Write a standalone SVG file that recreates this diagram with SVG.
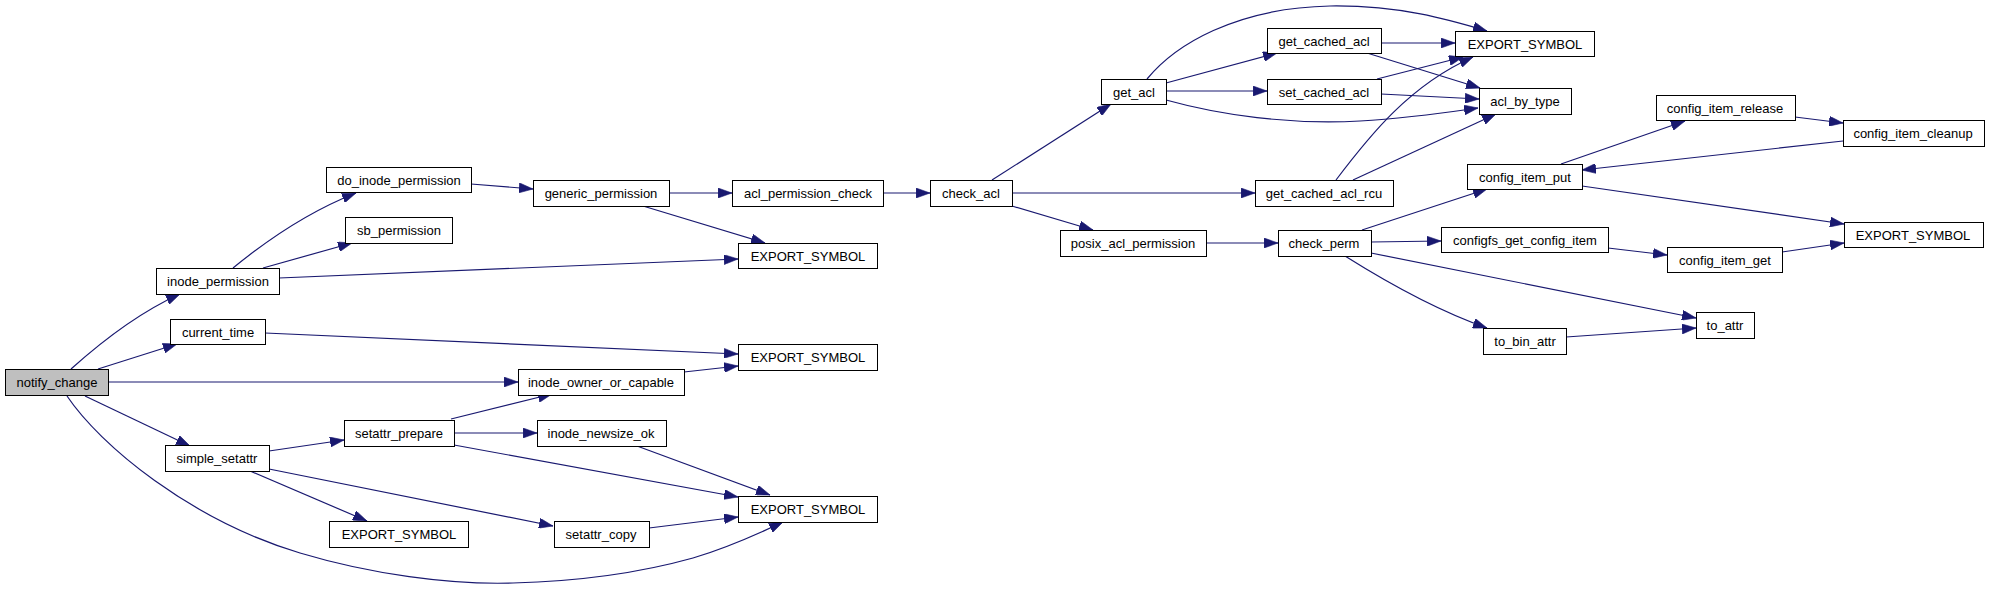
<svg xmlns="http://www.w3.org/2000/svg" width="1989" height="589" viewBox="0 0 1989 589">
<style>
.n rect{fill:#fff;stroke:#000;stroke-width:1}
.n text{font-family:"Liberation Sans",Arial,sans-serif;font-size:13px;fill:#000;text-anchor:middle}
#n_notify_change rect{fill:#bfbfbf}
.e path{fill:none;stroke:#191970;stroke-width:1.2;marker-end:url(#ah)}
</style>
<defs>
<marker id="ah" markerUnits="userSpaceOnUse" markerWidth="14" markerHeight="10" refX="12" refY="4.3" orient="auto" viewBox="0 0 12 8.6">
<path d="M0,0 L12,4.3 L0,8.6 z" fill="#191970" stroke="#191970" stroke-width="0.5"/>
</marker>
</defs>
<rect width="1989" height="589" fill="#fff"/>
<g class="e" id="edges">
<path d="M71,369 C100,343 140,312 180,294"/>
<path d="M98,369 L177,344"/>
<path d="M108,382 L518,382"/>
<path d="M85,396 L190,446"/>
<path d="M67,396 C100,445 190,520 300,553 C370,574 450,585 513,583 C590,581 650,570 693,558 C730,547 760,533 783,522"/>
<path d="M233,268 C255,250 300,215 356,193"/>
<path d="M263,268 L352,243"/>
<path d="M279,278 L738,259"/>
<path d="M471,184 L533,189"/>
<path d="M669,193 L732,193"/>
<path d="M643,206 L765,243"/>
<path d="M883,193 L930,193"/>
<path d="M992,180 L1111,104"/>
<path d="M1012,193 L1255,193"/>
<path d="M1012,206 L1093,230"/>
<path d="M1147,79 C1175,45 1235,8 1330,6 C1400,5 1450,20 1487,31"/>
<path d="M1166,83 L1277,53"/>
<path d="M1166,91 L1267,91"/>
<path d="M1166,100 C1220,115 1290,125 1360,121 C1410,118 1450,112 1478,108"/>
<path d="M1381,43 L1455,43"/>
<path d="M1367,53 L1480,88"/>
<path d="M1377,79 L1463,57"/>
<path d="M1381,94 L1479,99"/>
<path d="M1336,180 C1370,135 1410,85 1473,57"/>
<path d="M1353,180 L1496,114"/>
<path d="M1206,243 L1278,243"/>
<path d="M1362,230 L1487,189"/>
<path d="M1371,242 L1441,241"/>
<path d="M1345,256 C1380,278 1430,308 1487,328"/>
<path d="M1371,253 L1696,318"/>
<path d="M1561,164 L1685,121"/>
<path d="M1582,186 L1844,224"/>
<path d="M1795,117 L1843,123"/>
<path d="M1843,141 L1582,170"/>
<path d="M1608,248 L1667,255"/>
<path d="M1782,252 L1844,243"/>
<path d="M1566,337 L1696,328"/>
<path d="M265,333 L738,354"/>
<path d="M684,372 L738,366"/>
<path d="M269,451 L344,440"/>
<path d="M250,471 L367,521"/>
<path d="M269,469 L553,526"/>
<path d="M451,419 L552,394"/>
<path d="M454,433 L537,433"/>
<path d="M454,445 L738,497"/>
<path d="M637,446 L770,495"/>
<path d="M649,528 L738,517"/>
</g>
<g class="n" id="n_notify_change"><rect x="5.5" y="369.5" width="103" height="26"/><text x="57" y="387">notify_change</text></g>
<g class="n" id="n_inode_permission"><rect x="156.5" y="268.5" width="123" height="26"/><text x="218" y="286">inode_permission</text></g>
<g class="n" id="n_current_time"><rect x="170.5" y="319.5" width="95" height="25"/><text x="218" y="336.5">current_time</text></g>
<g class="n" id="n_simple_setattr"><rect x="165.5" y="445.5" width="104" height="26"/><text x="217" y="463">simple_setattr</text></g>
<g class="n" id="n_do_inode_permission"><rect x="326.5" y="167.5" width="145" height="25"/><text x="399" y="184.5">do_inode_permission</text></g>
<g class="n" id="n_sb_permission"><rect x="345.5" y="217.5" width="107" height="26"/><text x="399" y="235">sb_permission</text></g>
<g class="n" id="n_generic_permission"><rect x="533.5" y="180.5" width="136" height="26"/><text x="601" y="198">generic_permission</text></g>
<g class="n" id="n_acl_permission_check"><rect x="732.5" y="180.5" width="151" height="26"/><text x="808" y="198">acl_permission_check</text></g>
<g class="n" id="n_check_acl"><rect x="930.5" y="180.5" width="82" height="26"/><text x="971" y="198">check_acl</text></g>
<g class="n" id="n_export_symbol_1"><rect x="738.5" y="243.5" width="139" height="25"/><text x="808" y="260.5">EXPORT_SYMBOL</text></g>
<g class="n" id="n_export_symbol_2"><rect x="738.5" y="344.5" width="139" height="26"/><text x="808" y="362">EXPORT_SYMBOL</text></g>
<g class="n" id="n_inode_owner_or_capable"><rect x="518.5" y="369.5" width="166" height="26"/><text x="601" y="387">inode_owner_or_capable</text></g>
<g class="n" id="n_setattr_prepare"><rect x="344.5" y="420.5" width="110" height="26"/><text x="399" y="438">setattr_prepare</text></g>
<g class="n" id="n_inode_newsize_ok"><rect x="537.5" y="420.5" width="129" height="26"/><text x="601" y="438">inode_newsize_ok</text></g>
<g class="n" id="n_export_symbol_3"><rect x="738.5" y="496.5" width="139" height="26"/><text x="808" y="514">EXPORT_SYMBOL</text></g>
<g class="n" id="n_export_symbol_4"><rect x="329.5" y="521.5" width="139" height="26"/><text x="399" y="539">EXPORT_SYMBOL</text></g>
<g class="n" id="n_setattr_copy"><rect x="554.5" y="521.5" width="95" height="26"/><text x="601" y="539">setattr_copy</text></g>
<g class="n" id="n_get_acl"><rect x="1101.5" y="79.5" width="65" height="25"/><text x="1134" y="96.5">get_acl</text></g>
<g class="n" id="n_get_cached_acl"><rect x="1267.5" y="28.5" width="114" height="25"/><text x="1324" y="45.5">get_cached_acl</text></g>
<g class="n" id="n_set_cached_acl"><rect x="1267.5" y="79.5" width="114" height="25"/><text x="1324" y="96.5">set_cached_acl</text></g>
<g class="n" id="n_export_symbol_5"><rect x="1455.5" y="31.5" width="139" height="25"/><text x="1525" y="48.5">EXPORT_SYMBOL</text></g>
<g class="n" id="n_acl_by_type"><rect x="1479.5" y="88.5" width="92" height="26"/><text x="1525" y="106">acl_by_type</text></g>
<g class="n" id="n_get_cached_acl_rcu"><rect x="1255.5" y="180.5" width="138" height="26"/><text x="1324" y="198">get_cached_acl_rcu</text></g>
<g class="n" id="n_posix_acl_permission"><rect x="1060.5" y="230.5" width="146" height="26"/><text x="1133" y="248">posix_acl_permission</text></g>
<g class="n" id="n_check_perm"><rect x="1278.5" y="230.5" width="93" height="26"/><text x="1324" y="248">check_perm</text></g>
<g class="n" id="n_config_item_put"><rect x="1467.5" y="164.5" width="115" height="25"/><text x="1525" y="181.5">config_item_put</text></g>
<g class="n" id="n_config_item_release"><rect x="1656.5" y="95.5" width="139" height="25"/><text x="1725" y="112.5">config_item_release</text></g>
<g class="n" id="n_config_item_cleanup"><rect x="1843.5" y="120.5" width="141" height="26"/><text x="1913" y="138">config_item_cleanup</text></g>
<g class="n" id="n_export_symbol_6"><rect x="1844.5" y="222.5" width="139" height="25"/><text x="1913" y="239.5">EXPORT_SYMBOL</text></g>
<g class="n" id="n_configfs_get_config_item"><rect x="1441.5" y="227.5" width="167" height="25"/><text x="1525" y="244.5">configfs_get_config_item</text></g>
<g class="n" id="n_config_item_get"><rect x="1667.5" y="247.5" width="115" height="25"/><text x="1725" y="264.5">config_item_get</text></g>
<g class="n" id="n_to_bin_attr"><rect x="1483.5" y="328.5" width="83" height="26"/><text x="1525" y="346">to_bin_attr</text></g>
<g class="n" id="n_to_attr"><rect x="1696.5" y="312.5" width="58" height="26"/><text x="1725" y="330">to_attr</text></g>
</svg>
